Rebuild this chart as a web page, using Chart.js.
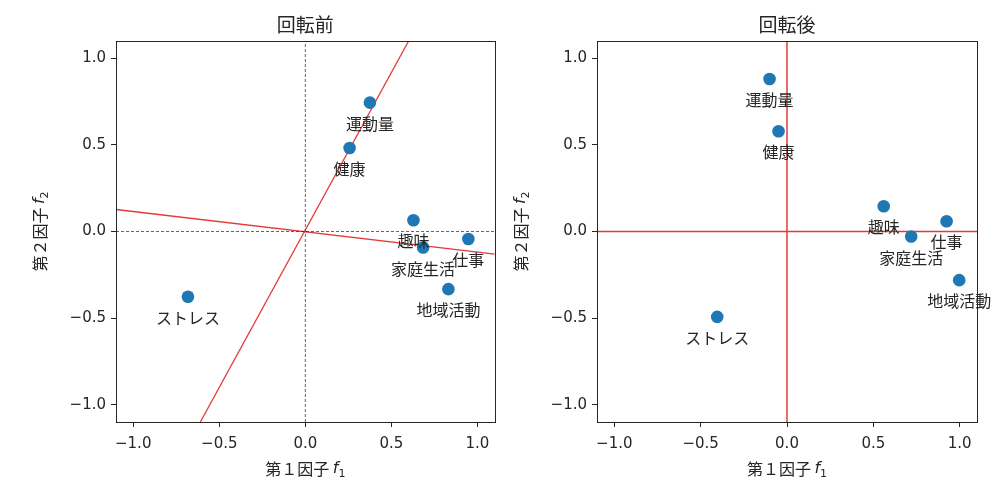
<!DOCTYPE html>
<html>
<head>
<meta charset="utf-8">
<script src="https://cdn.jsdelivr.net/npm/chart.js@4"></script>
<style>
  html, body { margin: 0; padding: 0; background: #fff; }
  #wrap { position: relative; width: 1002px; height: 494px; }
  canvas { position: absolute; top: 0; }
</style>
</head>
<body>
<div id="wrap">
  <canvas id="before" width="501" height="494" style="left:0"></canvas>
  <canvas id="after" width="501" height="494" style="left:501px"></canvas>
</div>
<script>
// variable names (point labels)
const items = ["運動量", "健康", "趣味", "仕事", "家庭生活", "地域活動", "ストレス"];

// factor loadings before rotation
const beforeF1 = [0.375, 0.257, 0.628, 0.947, 0.684, 0.831, -0.682];
const beforeF2 = [0.744, 0.482, 0.065, -0.043, -0.092, -0.333, -0.377];

// factor loadings after rotation
const afterF1 = [-0.101, -0.049, 0.560, 0.924, 0.719, 0.997, -0.404];
const afterF2 = [0.881, 0.579, 0.146, 0.059, -0.029, -0.281, -0.493];

// rotated axes drawn on the left plot (end points)
const rotAxis1 = [[-0.61, -1.1], [0.60, 1.1]];
const rotAxis2 = [[-1.1, 0.127], [1.1, -0.131]];
// zero lines
const zeroV = [[0, -1.1], [0, 1.1]];
const zeroH = [[-1.1, 0], [1.1, 0]];

const tickValues = [-1.0, -0.5, 0.0, 0.5, 1.0];
const titles = ["回転前", "回転後"];

const INK = "#262626";
const JP = '"Noto Sans CJK JP", "Noto Sans", sans-serif';

function fmt(v) {
    if (Math.abs(v) < 1e-9) return "0.0";
    return (v < 0 ? "\u2212" : "") + Math.abs(v).toFixed(1);
}

function toXY(pairs) {
    return pairs.map(p => ({ x: p[0], y: p[1] }));
}

// draws a label like 第１因子 f₁ with italic f and subscript
function drawMixed(ctx, parts, cx, cy, angle) {
    ctx.save();
    ctx.translate(cx, cy);
    ctx.rotate(angle);
    let total = 0;
    parts.forEach(p => { ctx.font = p.font; p.w = ctx.measureText(p.t).width; total += p.w; });
    let x = -total / 2;
    ctx.fillStyle = INK;
    ctx.textBaseline = "middle";
    ctx.textAlign = "left";
    parts.forEach(p => {
        ctx.font = p.font;
        ctx.fillText(p.t, x, p.dy || 0);
        x += p.w;
    });
    ctx.restore();
}

const decorPlugin = {
    id: "decor",
    afterDatasetsDraw(chart) {
        const ctx = chart.ctx;
        const meta = chart.getDatasetMeta(0);
        ctx.save();
        ctx.font = "16px " + JP;
        ctx.fillStyle = INK;
        ctx.textAlign = "center";
        ctx.textBaseline = "middle";
        meta.data.forEach((el, i) => {
            ctx.fillText(items[i], el.x, el.y + 21);
        });
        ctx.restore();
    },
    afterDraw(chart) {
        const ctx = chart.ctx;
        const a = chart.chartArea;
        ctx.save();
        ctx.strokeStyle = INK;
        ctx.lineWidth = 1;
        ctx.strokeRect(Math.round(a.left) + 0.5, Math.round(a.top) + 0.5,
                       Math.round(a.right - a.left), Math.round(a.bottom - a.top));
        // title
        ctx.font = "19px " + JP;
        ctx.fillStyle = INK;
        ctx.textAlign = "center";
        ctx.textBaseline = "middle";
        ctx.fillText(chart.options.plugins.decor.title, (a.left + a.right) / 2, 25);
        ctx.restore();

        drawMixed(ctx, [
            { t: "第１因子 ", font: "16px " + JP },
            { t: "f", font: 'italic 16px "DejaVu Sans"' },
            { t: "1", font: '11px "DejaVu Sans"', dy: 5 }
        ], (a.left + a.right) / 2, 469, 0);
        drawMixed(ctx, [
            { t: "第２因子 ", font: "16px " + JP },
            { t: "f", font: 'italic 16px "DejaVu Sans"' },
            { t: "2", font: '11px "DejaVu Sans"', dy: 5 }
        ], a.left - 76, (a.top + a.bottom) / 2, -Math.PI / 2);
    }
};

function axis(fitFn, pad) {
    return {
        type: "linear",
        min: -1.1,
        max: 1.1,
        afterBuildTicks: s => { s.ticks = tickValues.map(v => ({ value: v })); },
        ticks: {
            callback: fmt,
            font: { family: "DejaVu Sans", size: 15 },
            color: INK,
            padding: pad
        },
        grid: { drawOnChartArea: false, tickLength: 5, color: INK, tickColor: INK, lineWidth: 1 },
        border: { display: false },
        title: { display: false },
        afterFit: fitFn
    };
}

function makeChart(id, title, xs, ys, lines, padRight, yWidth) {
    const datasets = [{
        data: xs.map((x, i) => ({ x: x, y: ys[i] })),
        backgroundColor: "#1f77b4",
        borderColor: "#1f77b4",
        pointRadius: 6.3,
        pointHoverRadius: 6.3,
        borderWidth: 0,
        order: 0
    }];
    lines.forEach(l => {
        datasets.push({
            data: toXY(l.pts),
            showLine: true,
            borderColor: l.color,
            borderWidth: l.width,
            borderDash: l.dash || [],
            pointRadius: 0,
            pointHoverRadius: 0,
            fill: false,
            order: 1
        });
    });

    return new Chart(document.getElementById(id), {
        type: "scatter",
        data: { datasets: datasets },
        options: {
            responsive: false,
            animation: false,
            layout: { padding: { top: 41, left: 0, right: padRight, bottom: 0 } },
            plugins: {
                legend: { display: false },
                tooltip: { enabled: false },
                decor: { title: title }
            },
            scales: {
                x: axis(s => { s.height = 72; }, 8),
                y: axis(s => { s.width = yWidth; }, 5)
            }
        },
        plugins: [decorPlugin]
    });
}

const RED = "rgb(226, 58, 58)";

makeChart("before", titles[0], beforeF1, beforeF2, [
    { pts: zeroV, color: "#222", width: 0.7, dash: [3, 2] },
    { pts: zeroH, color: "#222", width: 0.7, dash: [3, 2] },
    { pts: rotAxis1, color: RED, width: 1.3 },
    { pts: rotAxis2, color: RED, width: 1.3 }
], 5, 116);

makeChart("after", titles[1], afterF1, afterF2, [
    { pts: zeroV, color: RED, width: 1.5 },
    { pts: zeroH, color: RED, width: 1.5 }
], 25, 96);
</script>
</body>
</html>
